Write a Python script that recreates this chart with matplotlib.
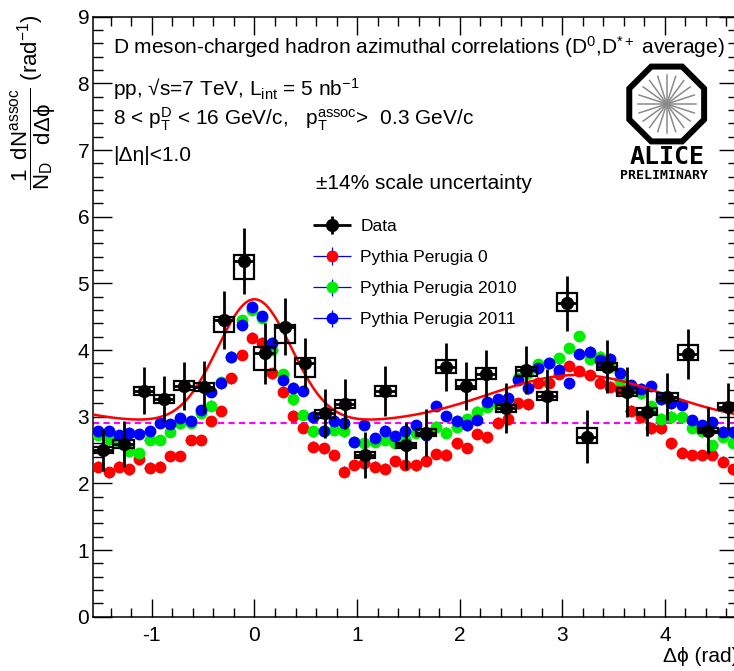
import numpy as np
import matplotlib
matplotlib.use("Agg")
import matplotlib.pyplot as plt
from matplotlib.patches import Rectangle, RegularPolygon
from matplotlib.ticker import MultipleLocator
from matplotlib.container import ErrorbarContainer
from matplotlib.legend_handler import HandlerErrorbar

plt.rcParams["font.family"] = ["Liberation Sans", "DejaVu Sans"]
plt.rcParams["mathtext.fontset"] = "custom"
plt.rcParams["mathtext.rm"] = "Liberation Sans"
plt.rcParams["mathtext.it"] = "Liberation Sans:italic"
plt.rcParams["mathtext.bf"] = "Liberation Sans:bold"
plt.rcParams["mathtext.default"] = "regular"
plt.rcParams["axes.unicode_minus"] = False

# ---- binning: data in 32 bins, Pythia in 63 bins over [-pi/2, 3pi/2] ----
edges_data = np.linspace(-np.pi / 2, 3 * np.pi / 2, 33)
edges_py = np.linspace(-np.pi / 2, 3 * np.pi / 2, 64)
x_data = 0.5 * (edges_data[1:] + edges_data[:-1])
x_py = 0.5 * (edges_py[1:] + edges_py[:-1])
bw_data = edges_data[1] - edges_data[0]
bw_py = edges_py[1] - edges_py[0]

# ---- measured correlation (D0, D*+ average) ----
data_y = [2.50, 2.59, 3.39, 3.265, 3.465, 3.44, 4.45, 5.335, 3.95, 4.35, 3.80, 3.05,
          3.19, 2.425, 3.385, 2.57, 2.76, 3.74, 3.46, 3.64, 3.125, 3.70, 3.31, 4.70,
          2.70, 3.75, 3.375, 3.075, 3.30, 3.94, 2.79, 3.15]
data_stat = [0.31, 0.34, 0.355, 0.35, 0.36, 0.39, 0.43, 0.50, 0.46, 0.43, 0.375, 0.37,
             0.37, 0.35, 0.375, 0.35, 0.35, 0.36, 0.36, 0.355, 0.375, 0.355, 0.40, 0.41,
             0.40, 0.40, 0.375, 0.36, 0.35, 0.37, 0.35, 0.35]
syst_lo = [0.05, 0.06, 0.06, 0.06, 0.07, 0.06, 0.175, 0.275, 0.25, 0.24, 0.20, 0.075,
           0.06, 0.04, 0.07, 0.04, 0.05, 0.09, 0.05, 0.07, 0.05, 0.09, 0.065, 0.11,
           0.09, 0.055, 0.06, 0.05, 0.07, 0.09, 0.04, 0.05]
syst_hi = [0.05, 0.06, 0.06, 0.06, 0.07, 0.06, 0.04, 0.09, 0.10, 0.02, 0.075, 0.05,
           0.06, 0.04, 0.07, 0.04, 0.05, 0.11, 0.09, 0.09, 0.05, 0.04, 0.065, 0.15,
           0.125, 0.055, 0.06, 0.05, 0.05, 0.135, 0.04, 0.05]

# ---- Pythia predictions ----
perugia0 = [2.25, 2.165, 2.25, 2.21, 2.36, 2.235, 2.25, 2.41, 2.41, 2.65,
            2.65, 2.935, 3.085, 3.575, 3.925, 4.185, 4.11, 3.65, 3.375, 3.015,
            2.835, 2.55, 2.525, 2.425, 2.175, 2.275, 2.30, 2.25, 2.22, 2.335,
            2.275, 2.27, 2.335, 2.44, 2.43, 2.60, 2.53, 2.74, 2.69, 2.91,
            2.96, 3.20, 3.185, 3.51, 3.51, 3.64, 3.76, 3.685, 3.625, 3.51,
            3.45, 3.41, 3.09, 3.00, 2.825, 2.825, 2.60, 2.46, 2.425, 2.425,
            2.425, 2.325, 2.21]
perugia2010 = [2.725, 2.66, 2.62, 2.49, 2.45, 2.65, 2.65, 2.775, 2.90, 2.91,
               3.06, 3.165, 3.52, 3.90, 4.45, 4.60, 4.48, 4.00, 3.635, 3.26,
               3.025, 2.78, 2.78, 2.80, 2.78, 2.62, 2.60, 2.62, 2.65, 2.61,
               2.66, 2.76, 2.72, 2.85, 2.76, 2.85, 2.96, 3.075, 3.15, 3.185,
               3.27, 3.575, 3.65, 3.79, 3.80, 3.875, 4.03, 4.21, 3.87, 3.90,
               3.75, 3.55, 3.42, 3.35, 3.16, 2.97, 3.00, 2.99, 2.83, 2.78,
               2.57, 2.70, 2.61]
perugia2011 = [2.785, 2.785, 2.72, 2.76, 2.74, 2.785, 2.91, 2.885, 2.975, 2.935,
               3.10, 3.375, 3.50, 3.90, 4.375, 4.65, 4.51, 4.11, 3.55, 3.435,
               3.385, 3.00, 2.785, 2.935, 2.90, 2.62, 2.875, 2.68, 2.79, 2.71,
               2.78, 2.875, 2.72, 3.16, 3.01, 2.94, 2.87, 2.95, 3.225, 3.26,
               3.275, 3.55, 3.425, 3.725, 3.80, 3.70, 3.50, 3.94, 3.975, 3.85,
               3.87, 3.65, 3.475, 3.42, 3.46, 3.26, 3.20, 3.18, 2.95, 2.875,
               2.92, 2.775, 2.77]
pythia_err = 0.08

# ---- fit: baseline + near-side and away-side gaussians (2pi periodic) ----
baseline = 2.9
ns_amp, ns_sigma = 1.86, 0.36
as_amp, as_sigma = 0.725, 0.85


def fit_func(x):
    y = np.full_like(x, baseline)
    for k in (-1, 0, 1):
        y += ns_amp * np.exp(-(x - 2 * np.pi * k) ** 2 / (2 * ns_sigma ** 2))
        y += as_amp * np.exp(-(x - np.pi - 2 * np.pi * k) ** 2 / (2 * as_sigma ** 2))
    return y


W, H = 734, 671
fig = plt.figure(figsize=(W / 100, H / 100), dpi=100)
ax = fig.add_axes([93.3 / W, 1 - 616.7 / H, 644.7 / W, 600 / H])
ax.set_xlim(-np.pi / 2, 3 * np.pi / 2)
ax.set_ylim(0, 9)

ax.axhline(baseline, color="#ff00ff", lw=1.5, ls=(0, (3, 2)), zorder=1)

series = [(perugia0, "red", "Pythia Perugia 0"),
          (perugia2010, "#00ee00", "Pythia Perugia 2010"),
          (perugia2011, "blue", "Pythia Perugia 2011")]
handles = []
for vals, col, lab in series:
    h = ax.errorbar(x_py, vals, xerr=bw_py / 2, yerr=pythia_err, fmt="o", ms=7.5,
                    color=col, mec=col, ecolor="blue", elinewidth=0.9, capsize=0,
                    zorder=3, label=lab)
    handles.append(h)

xf = np.linspace(-np.pi / 2, 3 * np.pi / 2, 500)
ax.plot(xf, fit_func(xf), color="red", lw=1.8, zorder=4)

for xc, yc, lo, hi in zip(x_data, data_y, syst_lo, syst_hi):
    ax.add_patch(Rectangle((xc - bw_data / 2, yc - lo), bw_data, lo + hi,
                           fill=False, ec="black", lw=1.6, zorder=5))
hd = ax.errorbar(x_data, data_y, xerr=bw_data / 2, yerr=data_stat, fmt="o", ms=8.5,
                 color="black", elinewidth=2.0, capsize=0, zorder=6, label="Data")

ax.xaxis.set_major_locator(MultipleLocator(1))
ax.xaxis.set_minor_locator(MultipleLocator(0.2))
ax.yaxis.set_major_locator(MultipleLocator(1))
ax.yaxis.set_minor_locator(MultipleLocator(0.2))
ax.tick_params(which="both", direction="in", top=True, right=True, width=1.0,
               labelsize=15)
ax.tick_params(axis="y", which="major", length=14, pad=3)
ax.tick_params(axis="y", which="minor", length=7)
ax.tick_params(axis="x", which="major", length=13, pad=7)
ax.tick_params(axis="x", which="minor", length=6.5)
for sp in ax.spines.values():
    sp.set_linewidth(1.1)

ax.text(1.0, -0.067, "Δϕ (rad)", transform=ax.transAxes, ha="right", va="center",
        fontsize=15)
fig.text(33 / W, 1 - 14 / H,
         r"$\dfrac{1}{N_{D}}\dfrac{dN^{assoc}}{d\Delta\phi}$ (rad$^{-1}$)",
         rotation=90, ha="center", va="top", fontsize=16)

tx = -1.38
ax.text(tx, 8.545, "D meson-charged hadron azimuthal correlations (D$^{0}$,D$^{*+}$ average)",
        fontsize=15, va="center")
ax.text(tx, 7.92, "pp, √s=7 TeV, L$_{int}$ = 5 nb$^{-1}$", fontsize=15, va="center")
ax.text(tx, 7.46, "8 < p$_{T}^{D}$ < 16 GeV/c,   p$_{T}^{assoc}$>  0.3 GeV/c",
        fontsize=15, va="center")
ax.text(tx, 6.925, "|Δη|<1.0", fontsize=15, va="center")
ax.text(1.652, 6.505, "±14% scale uncertainty", fontsize=15, ha="center", va="center")

leg = ax.legend([hd] + handles, ["Data"] + [s[2] for s in series],
                loc="upper left", bbox_to_anchor=(0.339, 0.663), frameon=False,
                fontsize=12.5, handlelength=2.3, handletextpad=0.5, labelspacing=0.92,
                borderpad=0, borderaxespad=0,
                handler_map={ErrorbarContainer: HandlerErrorbar(xerr_size=1.1, yerr_size=0.5)})

# ---- ALICE logo ----
lax = fig.add_axes([606 / W, 1 - 186 / H, 114 / W, 126 / H])
lax.set_xlim(606, 720)
lax.set_ylim(186, 60)
lax.axis("off")
cx, cy = 666.7, 104
lax.add_patch(RegularPolygon((cx, cy), numVertices=8, radius=40.5, orientation=np.pi / 8,
                             fill=False, ec="black", lw=4.3))
for a in np.linspace(0, np.pi, 10, endpoint=False):
    lax.plot([cx - 29 * np.cos(a), cx + 29 * np.cos(a)],
             [cy - 29 * np.sin(a), cy + 29 * np.sin(a)], color="#8a8a8a", lw=1.1)
lax.text(cx, 163.5, "ALICE", fontsize=18, fontweight="bold", family="DejaVu Sans Mono",
         ha="center", va="baseline")
lax.text(664, 179, "PRELIMINARY", fontsize=9.5, fontweight="bold",
         family="DejaVu Sans Mono", ha="center", va="baseline")

fig.savefig("out.png", dpi=100)
